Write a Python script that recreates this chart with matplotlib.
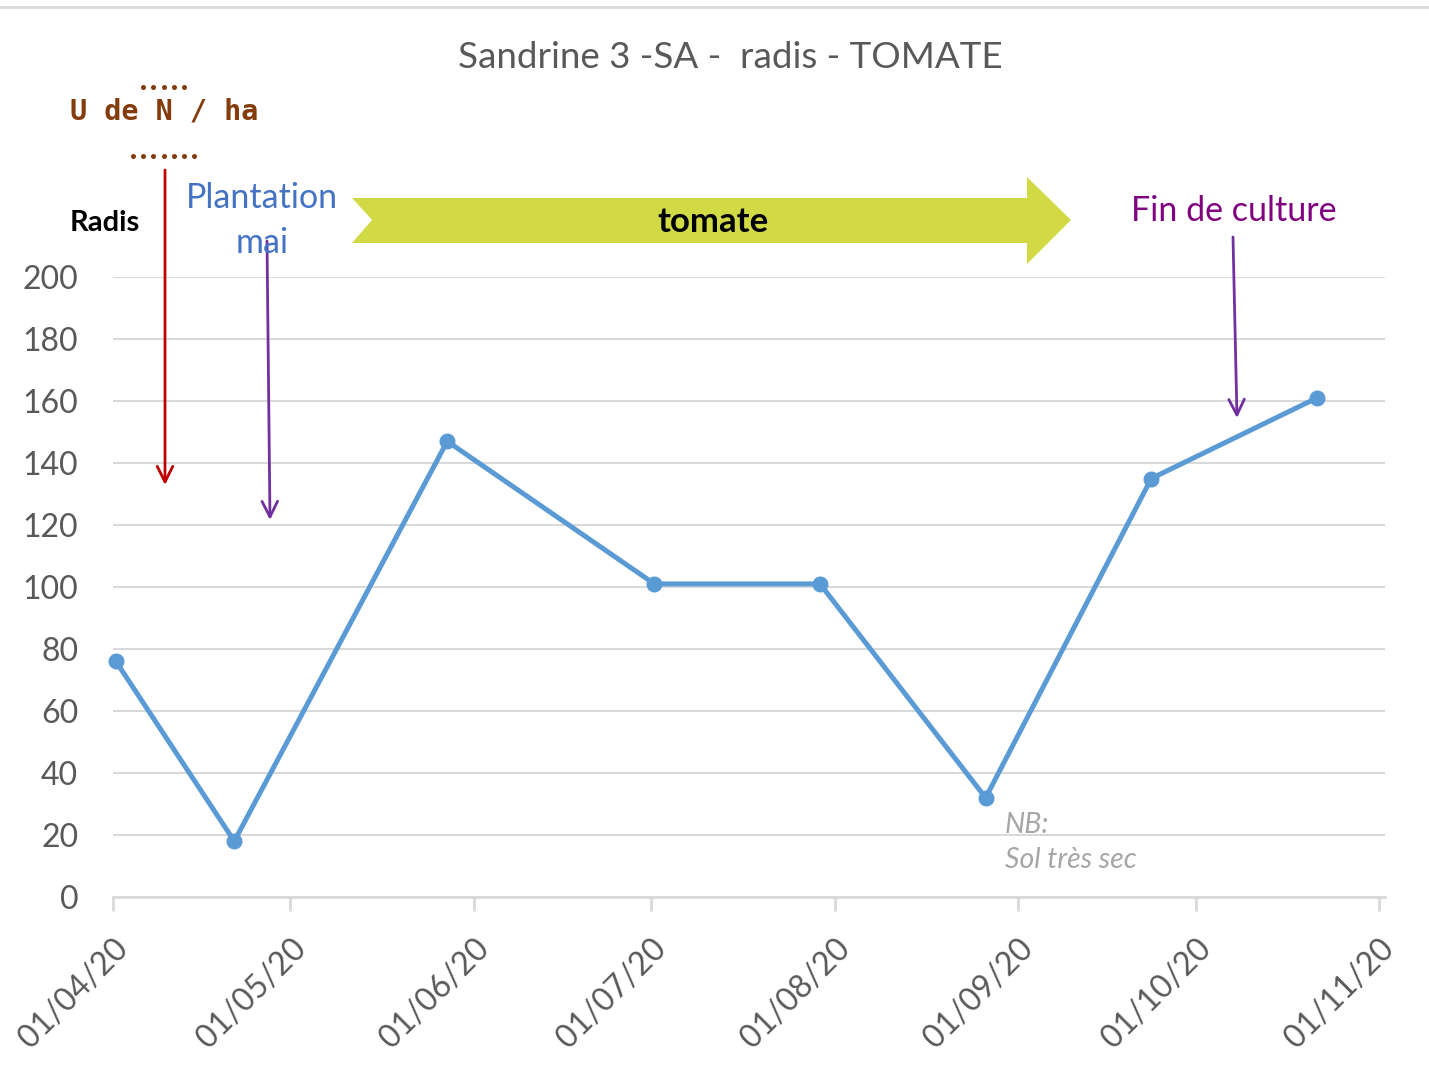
import numpy as np
import pandas as pd
import matplotlib.pyplot as plt
import matplotlib.dates as mdates
from matplotlib.patches import Polygon
from matplotlib.lines import Line2D

plt.rcParams['font.family'] = ['Lato', 'DejaVu Sans']

# data
dates = pd.to_datetime(['2020-04-01', '2020-04-21', '2020-05-27', '2020-07-01',
                        '2020-07-29', '2020-08-26', '2020-09-23', '2020-10-21'])
values = [76, 18, 147, 101, 101, 32, 135, 161]
month_ticks = pd.date_range('2020-04-01', '2020-11-01', freq='MS')
y_ticks = np.arange(0, 201, 20)

title = 'Sandrine 3 -SA -  radis - TOMATE'

W, H = 1429, 1091
GRAY = '#595959'
GRID = '#D9D9D9'


def px(x, y):
    # pixel position -> figure fraction
    return (x / W, 1 - y / H)


fig = plt.figure(figsize=(W / 100, H / 100), dpi=100)
ax = fig.add_axes([113 / W, 1 - 897 / H, (1385 - 113) / W, (897 - 277) / H])

# excel puts each point in the middle of its day
ax.plot(dates + pd.Timedelta(hours=12), values, color='#5B9BD5', lw=3.6,
        marker='o', ms=10.5, zorder=3, clip_on=False)

ax.set_ylim(0, 200)
ax.set_xlim(pd.Timestamp('2020-04-01'), pd.Timestamp('2020-11-02'))
ax.set_yticks(y_ticks)
ax.set_xticks(month_ticks)
ax.xaxis.set_major_formatter(mdates.DateFormatter('%d/%m/%y'))
ax.grid(axis='y', color=GRID, lw=1.5)
ax.set_axisbelow(True)
for s in ['top', 'right', 'left']:
    ax.spines[s].set_visible(False)
ax.spines['bottom'].set_color(GRID)
ax.spines['bottom'].set_linewidth(2)
ax.tick_params(axis='y', length=0, pad=25, labelsize=23, labelcolor=GRAY)
ax.tick_params(axis='x', length=10, width=2, color=GRID, pad=16, labelsize=23, labelcolor=GRAY)
for lab in ax.get_xticklabels():
    lab.set_rotation(45)
    lab.set_ha('right')
    lab.set_va('top')
    lab.set_rotation_mode('anchor')

# top border
fig.add_artist(Line2D([0, 1], [px(0, 7)[1]] * 2, color=GRID, lw=2))

fig.text(*px(730, 57), title, ha='center', va='center', fontsize=26.5, color=GRAY)

# y axis label block
brown = '#843C0C'
fig.text(*px(164, 111), 'U de N / ha', ha='center', va='center', fontsize=20.5,
         color=brown, fontweight='bold', family='DejaVu Sans Mono')


def dots(x0, x1, n, y):
    xs = np.linspace(x0, x1, n) / W
    fig.add_artist(Line2D(xs, [px(0, y)[1]] * n, ls='none', marker='o', ms=3.6,
                          color=brown, mec='none'))


dots(143, 184, 5, 87)
dots(133, 194, 7, 156)
fig.text(*px(105, 223), 'Radis', ha='center', va='center', fontsize=21,
         color='black', fontweight='bold')

# annotations
fig.text(*px(262, 198), 'Plantation', ha='center', va='center', fontsize=24.5, color='#4472C4')
fig.text(*px(262, 243), 'mai', ha='center', va='center', fontsize=24.5, color='#4472C4')
fig.text(*px(1234, 211), 'Fin de culture', ha='center', va='center', fontsize=24.5, color='#800080')


def arrow(x0, y0, x1, y1, color):
    ax.annotate('', xy=px(x1, y1), xycoords='figure fraction',
                xytext=px(x0, y0), textcoords='figure fraction',
                arrowprops=dict(arrowstyle='->', color=color, lw=2,
                                mutation_scale=28, shrinkA=0, shrinkB=0),
                annotation_clip=False)


arrow(165, 170, 165, 485, '#C00000')
arrow(267, 241, 270, 520, '#7030A0')
arrow(1233, 237, 1237, 418, '#7030A0')

# tomato period arrow
pts = [px(352, 198), px(1027, 198), px(1027, 177), px(1071, 220),
       px(1027, 264), px(1027, 243), px(352, 243), px(372, 220)]
fig.add_artist(Polygon(pts, closed=True, transform=fig.transFigure,
                       facecolor='#D1DA44', edgecolor='none'))
fig.text(*px(713, 222), 'tomate', ha='center', va='center', fontsize=25,
         color='black', fontweight='bold')

fig.text(*px(1005, 825), 'NB:', ha='left', va='center', fontsize=20.5,
         color='#A6A6A6', style='italic')
fig.text(*px(1005, 860), 'Sol très sec', ha='left', va='center', fontsize=20.5,
         color='#A6A6A6', style='italic')

fig.savefig('out.png', dpi=100, facecolor='white')
